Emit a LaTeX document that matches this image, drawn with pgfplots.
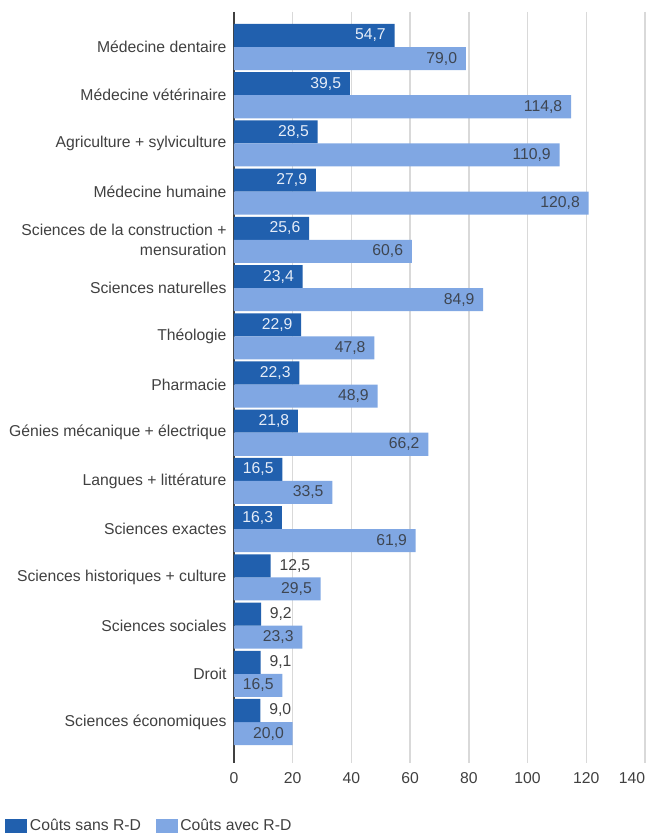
\documentclass[border=0pt]{standalone}
\usepackage{fontspec}
\setmainfont{Liberation Sans}
\usepackage{pgfplots}
\pgfplotsset{compat=1.18}
\usetikzlibrary{calc}
\definecolor{darkbar}{HTML}{2160AE}
\definecolor{lightbar}{HTML}{80A7E3}
\definecolor{txt}{HTML}{404040}
\definecolor{labw}{HTML}{E6EDF8}
\definecolor{labd}{HTML}{3E4652}
\definecolor{gridc}{HTML}{D9D9D9}
\begin{document}
\fontsize{11.8}{14}\selectfont
\begin{tikzpicture}
\begin{axis}[
  scale only axis, width=308.25pt, height=563.25pt,
  xbar, y dir=reverse,
  xmin=0, xmax=140, ymin=-0.726, ymax=14.85,
  xtick={0,20,...,140},
  xticklabels={0,20,40,60,80,100,120,\makebox[0pt][r]{140}},
  ytick={0,...,14},
  yticklabels={M\'edecine dentaire, M\'edecine v\'et\'erinaire, Agriculture + sylviculture, M\'edecine humaine, {Sciences de la construction +\\mensuration}, Sciences naturelles, Th\'eologie, Pharmacie, G\'enies m\'ecanique + \'electrique, Langues + litt\'erature, Sciences exactes, Sciences historiques + culture, Sciences sociales, Droit, Sciences \'economiques},
  yticklabel style={align=right, text=txt, font=\fontsize{11.8}{14.5}\selectfont, xshift=-1.5pt},
  xticklabel style={text=txt, font=\fontsize{11.8}{14}\selectfont, yshift=-3pt},
  major tick length=0pt,
  axis line style={draw=none},
  xmajorgrids, grid style={gridc, line width=1pt},
  extra x ticks={0}, extra x tick labels={},
  extra x tick style={grid style={txt, line width=1.2pt}},
  bar width=0.478,
  point meta=x,
  nodes near coords={\pgfmathprintnumber[fixed,fixed zerofill,precision=1,use comma,assume math mode=true]{\pgfplotspointmeta}},
  nodes near coords style={font=\fontsize{11.8}{14}\selectfont},
  legend style={at={(-0.557,-0.084)}, anchor=west, draw=none, fill=none, inner sep=0pt, legend columns=2, font=\fontsize{11.8}{14}\selectfont, text=txt,
    /tikz/every even column/.append style={column sep=9pt}},
  legend cell align=left,
  legend image code/.code={\fill[#1] (0pt,-5.25pt) rectangle (16.5pt,5.25pt);},
]
\addplot[fill=darkbar, draw=none, bar shift=-0.239,
  every node near coord/.append style={anchor=east, text=labw, xshift=-2.5pt}]
  coordinates {(54.7,0) (39.5,1) (28.5,2) (27.9,3) (25.6,4) (23.4,5) (22.9,6) (22.3,7) (21.8,8) (16.5,9) (16.3,10)};
\addlegendentry{Co\^uts sans R-D}
\addplot[fill=lightbar, draw=none, bar shift=0.239,
  every node near coord/.append style={anchor=east, text=labd, xshift=-2.5pt}]
  coordinates {(79.0,0) (114.8,1) (110.9,2) (120.8,3) (60.6,4) (84.9,5) (47.8,6) (48.9,7) (66.2,8) (33.5,9) (61.9,10) (29.5,11) (23.3,12) (16.5,13) (20.0,14)};
\addlegendentry{Co\^uts avec R-D}
\addplot[fill=darkbar, draw=none, bar shift=-0.239, forget plot,
  every node near coord/.append style={anchor=west, text=txt, xshift=2.5pt}]
  coordinates {(12.5,11) (9.2,12) (9.1,13) (9.0,14)};
\end{axis}
\pgfresetboundingbox
\path ($(current axis.south west)+(-175.5pt,-53.25pt)$) rectangle ($(current axis.north east)+(1.5pt,9pt)$);
\end{tikzpicture}
\end{document}
